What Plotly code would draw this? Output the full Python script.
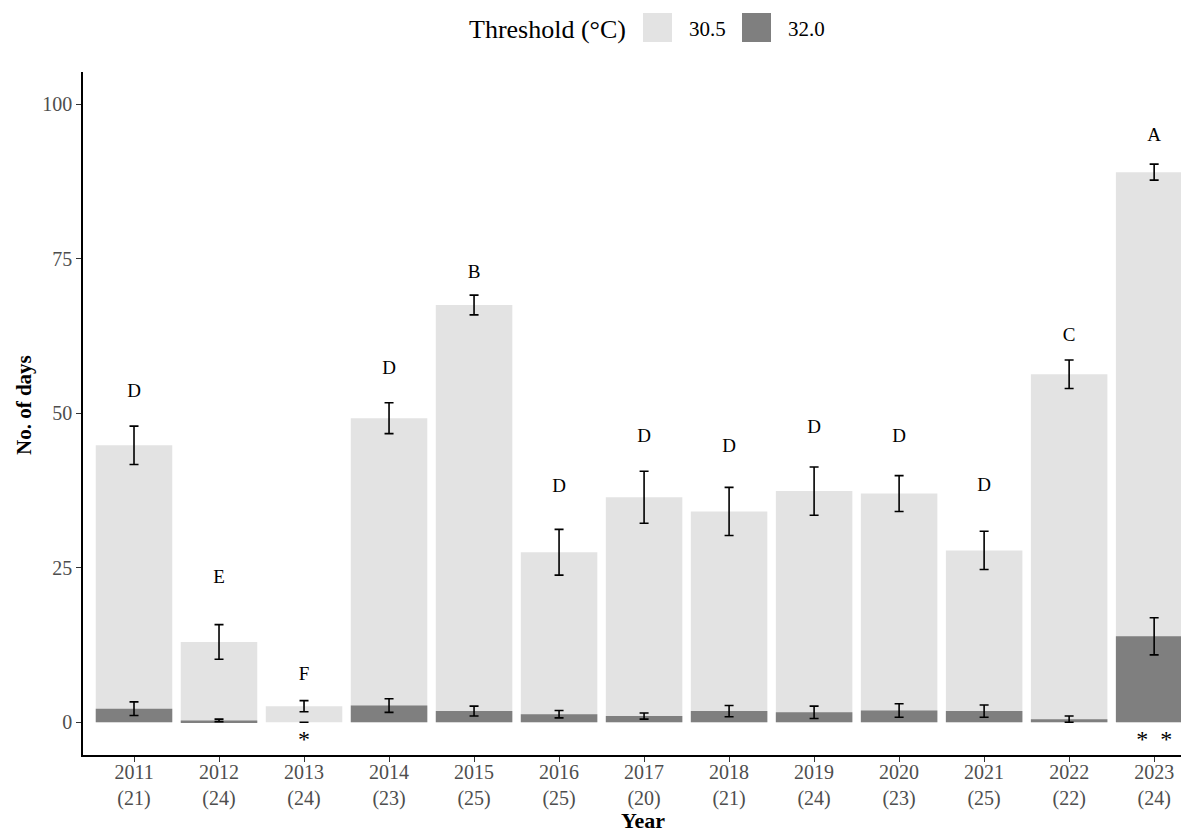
import plotly.graph_objects as go

years = ["2011", "2012", "2013", "2014", "2015", "2016", "2017",
         "2018", "2019", "2020", "2021", "2022", "2023"]
n_obs = [21, 24, 24, 23, 25, 25, 20, 21, 24, 23, 25, 22, 24]
days_305 = [44.8, 13.0, 2.6, 49.2, 67.5, 27.5, 36.4, 34.1, 37.4, 37.0, 27.8, 56.3, 89.0]
se_305 = [3.1, 2.8, 0.9, 2.5, 1.6, 3.7, 4.2, 3.9, 3.9, 2.9, 3.1, 2.3, 1.3]
days_320 = [2.2, 0.3, 0.0, 2.7, 1.8, 1.3, 1.0, 1.8, 1.6, 1.9, 1.8, 0.5, 13.9]
se_320 = [1.1, 0.2, 0.0, 1.1, 0.8, 0.6, 0.5, 0.9, 1.0, 1.1, 1.0, 0.5, 3.0]
letters = ["D", "E", "F", "D", "B", "D", "D", "D", "D", "D", "D", "C", "A"]
letter_y = [53.4, 23.3, 7.6, 57.1, 72.7, 38.0, 46.1, 44.5, 47.6, 46.1, 38.2, 62.5, 94.8]
stars = ["", "", "*", "", "", "", "", "", "", "", "", "", "*\u00a0\u00a0*"]
star_y = [-3.0] * len(years)
y_ticks = [0, 25, 50, 75, 100]

FONT = "Liberation Serif"
LIGHT = "#E3E3E3"
DARK = "#7F7F7F"
TICKCOL = "#4D4D4D"

tick_text = [f"{y}<br>({n})" for y, n in zip(years, n_obs)]

fig = go.Figure()
fig.add_trace(go.Bar(
    x=years, y=days_305, width=0.9, marker=dict(color=LIGHT, line=dict(width=0)),
    error_y=dict(type="data", array=se_305, color="black", thickness=1.6, width=4.5),
    name="30.5", showlegend=False,
))
fig.add_trace(go.Bar(
    x=years, y=days_320, width=0.9, marker=dict(color=DARK, line=dict(width=0)),
    error_y=dict(type="data", array=se_320, color="black", thickness=1.6, width=4.5),
    name="32.0", showlegend=False,
))
fig.add_trace(go.Scatter(
    x=years, y=letter_y, mode="text", text=letters, textposition="middle center",
    textfont=dict(family=FONT, size=19, color="black"), showlegend=False, hoverinfo="skip",
))
fig.add_trace(go.Scatter(
    x=years, y=star_y, mode="text", text=stars, textposition="middle center",
    textfont=dict(family=FONT, size=24, color="black"), showlegend=False, hoverinfo="skip",
))

# legend (manual, ggplot style); coordinates relative to plot area
W, H = 1106.0, 683.0
L, B = 83.0, 755.0
def px(xp):
    return (xp - L) / W
def py(yp):
    return (B - yp) / H

shapes = [
    dict(type="rect", xref="paper", yref="paper", x0=px(643), x1=px(672), y0=py(42), y1=py(13),
         fillcolor=LIGHT, line=dict(width=0)),
    dict(type="rect", xref="paper", yref="paper", x0=px(742), x1=px(771), y0=py(42), y1=py(13),
         fillcolor=DARK, line=dict(width=0)),
]
annotations = [
    dict(text="Threshold (°C)", xref="paper", yref="paper", x=px(628), y=py(29),
         xanchor="right", yanchor="middle", showarrow=False,
         font=dict(family=FONT, size=26, color="black")),
    dict(text="30.5", xref="paper", yref="paper", x=px(687), y=py(29),
         xanchor="left", yanchor="middle", showarrow=False,
         font=dict(family=FONT, size=21, color="black")),
    dict(text="32.0", xref="paper", yref="paper", x=px(786), y=py(29),
         xanchor="left", yanchor="middle", showarrow=False,
         font=dict(family=FONT, size=21, color="black")),
    dict(text="<b>Year</b>", xref="paper", yref="paper", x=px(643), y=py(820),
         xanchor="center", yanchor="middle", showarrow=False,
         font=dict(family=FONT, size=22, color="black")),
    dict(text="<b>No. of days</b>", xref="paper", yref="paper", x=px(24), y=py(405),
         xanchor="center", yanchor="middle", textangle=-90, showarrow=False,
         font=dict(family=FONT, size=21, color="black")),
]

# page body has an 8px margin: size the figure so the plot lands on the reference pixels
fig.update_layout(
    width=1181, height=825,
    margin=dict(l=75, r=0, t=64, b=78),
    barmode="overlay",
    paper_bgcolor="white", plot_bgcolor="white",
    font=dict(family=FONT, color=TICKCOL),
    shapes=shapes, annotations=annotations,
    showlegend=False,
)
fig.update_xaxes(
    type="category", range=[-0.6, 12.41], tickvals=years, ticktext=tick_text,
    showgrid=False, zeroline=False, showline=True, linecolor="black", linewidth=1.6,
    ticks="outside", ticklen=5, tickcolor="#333333", tickwidth=1.2,
    tickfont=dict(family=FONT, size=20, color=TICKCOL),
    ticklabelstandoff=-7,
)
fig.update_yaxes(
    range=[-5.3, 105.2], tickvals=y_ticks, ticktext=[str(v) for v in y_ticks],
    showgrid=False, zeroline=False, showline=True, linecolor="black", linewidth=1.6,
    ticks="outside", ticklen=5, tickcolor="#333333", tickwidth=1.2,
    tickfont=dict(family=FONT, size=20, color=TICKCOL),
)

fig.write_html("out.html")
